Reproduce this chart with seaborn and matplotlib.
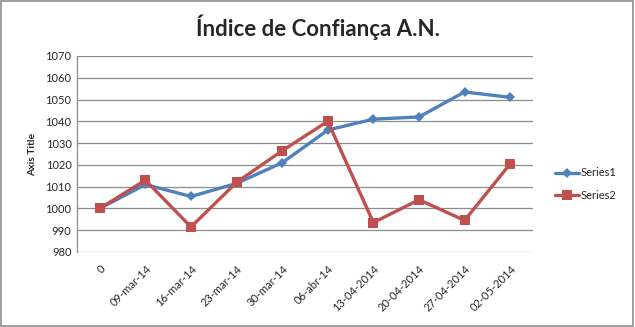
import matplotlib
matplotlib.use("Agg")
import matplotlib.pyplot as plt
import seaborn as sns
import pandas as pd
from matplotlib.patches import Rectangle
from matplotlib.lines import Line2D

categories = ["0", "09-mar-14", "16-mar-14", "23-mar-14", "30-mar-14", "06-abr-14",
              "13-04-2014", "20-04-2014", "27-04-2014", "02-05-2014"]
series1 = [1000, 1011, 1005.5, 1011.5, 1021, 1036, 1041, 1042, 1053.5, 1051]
series2 = [1000, 1013, 991.5, 1012, 1026.5, 1040, 993.5, 1004, 994.5, 1020.5]
yticks = list(range(980, 1071, 10))

sns.set_theme(style="white")
plt.rcParams['font.family'] = ['Lato', 'DejaVu Sans']

df = pd.DataFrame({
    "pos": list(range(len(categories))) * 2,
    "value": series1 + series2,
    "series": ["Series1"] * len(categories) + ["Series2"] * len(categories),
})

fig = plt.figure(figsize=(6.35, 3.27), dpi=100)
ax = fig.add_axes([77 / 635, 1 - 252 / 327, (533 - 77) / 635, (252 - 56) / 327])

palette = {"Series1": "#4F81BD", "Series2": "#C0504D"}
sns.lineplot(data=df, x="pos", y="value", hue="series", style="series",
             palette=palette, markers={"Series1": "D", "Series2": "s"},
             dashes=False, linewidth=2.4, markersize=5.5, markeredgewidth=0,
             ax=ax, legend=False)
# squares slightly larger than diamonds
for line in ax.get_lines():
    if line.get_marker() == "s":
        line.set_markersize(7)

ax.set_xlim(-0.5, len(categories) - 0.5)
ax.set_ylim(980, 1070)
ax.set_yticks(yticks)
ax.set_yticklabels([str(v) for v in yticks], fontsize=8)
ax.set_xticks(range(len(categories)))
ax.set_xticklabels(categories, rotation=45, ha="right", rotation_mode="anchor", fontsize=8)
ax.tick_params(axis="x", length=0, pad=8)
ax.tick_params(axis="y", length=0, pad=4)
ax.yaxis.grid(True, color="#8C8C8C", linewidth=0.9)
ax.set_axisbelow(True)
for s in ["top", "right", "bottom"]:
    ax.spines[s].set_visible(False)
ax.spines["left"].set_color("#8C8C8C")
ax.spines["left"].set_linewidth(0.9)
ax.set_xlabel("")
ax.set_ylabel("Axis Title", fontsize=7.5, fontweight="bold", labelpad=6)

fig.text(0.5, 1 - 27 / 327, "Índice de Confiança A.N.", ha="center", va="center",
         fontsize=16, fontweight="bold")

handles = [Line2D([], [], color="#4F81BD", marker="D", lw=2.4, ms=5, mew=0),
           Line2D([], [], color="#C0504D", marker="s", lw=2.4, ms=7, mew=0)]
fig.legend(handles, ["Series1", "Series2"], loc="center left",
           bbox_to_anchor=(545 / 635, 1 - 184 / 327), frameon=False, fontsize=8,
           handlelength=2.2, handletextpad=0.1, labelspacing=1.0)

fig.patches.append(Rectangle((0.002, 0.003), 0.995, 0.994, transform=fig.transFigure,
                             fill=False, edgecolor="#8C8C8C", linewidth=1.2))

fig.savefig("out.png", dpi=100)
